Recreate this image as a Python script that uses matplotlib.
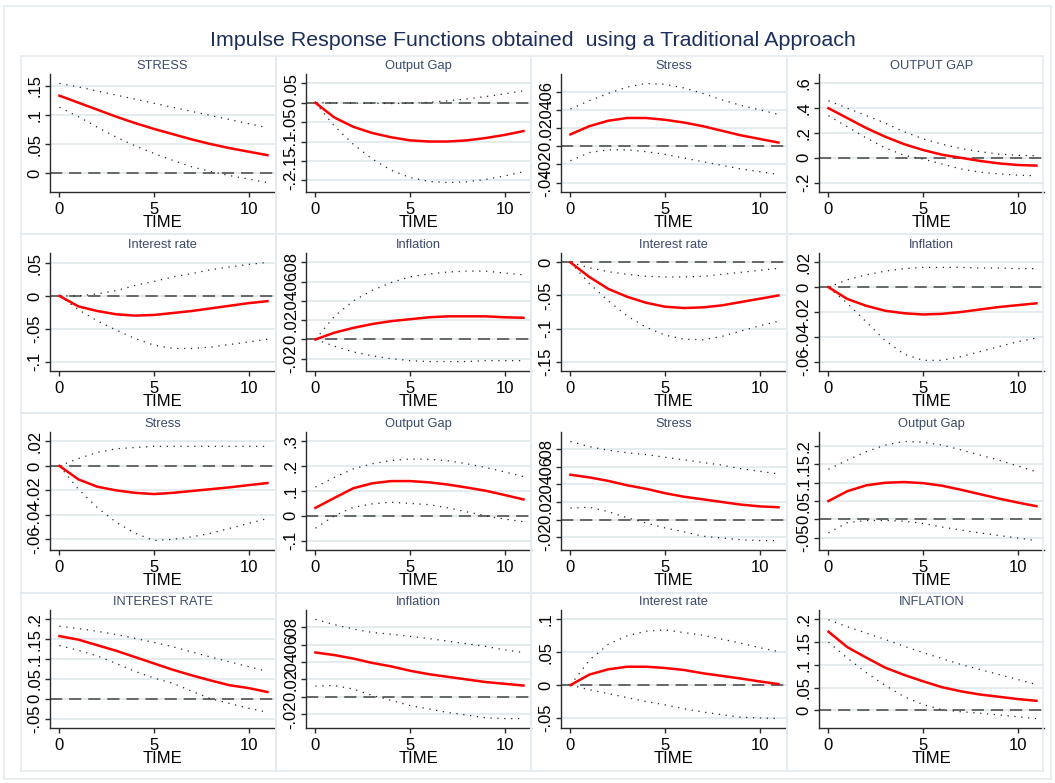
import matplotlib
matplotlib.use("Agg")
import matplotlib.pyplot as plt
from matplotlib.patches import Rectangle

plt.rcParams['font.family'] = ['Liberation Sans Narrow', 'Liberation Sans', 'DejaVu Sans']

# horizon 0..11
steps = list(range(12))

titles = ['STRESS', 'Output Gap', 'Stress', 'OUTPUT GAP',
          'Interest rate', 'Inflation', 'Interest rate', 'Inflation',
          'Stress', 'Output Gap', 'Stress', 'Output Gap',
          'INTEREST RATE', 'Inflation', 'Interest rate', 'INFLATION']

yticks = [[0, .05, .1, .15],
          [-.2, -.15, -.1, -.05, 0, .05],
          [-.04, -.02, 0, .02, .04, .06],
          [-.2, 0, .2, .4, .6],
          [-.1, -.05, 0, .05],
          [-.02, 0, .02, .04, .06, .08],
          [-.15, -.1, -.05, 0],
          [-.06, -.04, -.02, 0, .02],
          [-.06, -.04, -.02, 0, .02],
          [-.1, 0, .1, .2, .3],
          [-.02, 0, .02, .04, .06, .08],
          [-.05, 0, .05, .1, .15, .2],
          [-.05, 0, .05, .1, .15, .2],
          [-.02, 0, .02, .04, .06, .08],
          [-.05, 0, .05, .1],
          [0, .05, .1, .15, .2]]

# impulse responses (red line)
irf = [[.133, .121, .109, .097, .086, .076, .067, .058, .050, .043, .037, .031],
       [0, -.038, -.062, -.078, -.089, -.097, -.100, -.100, -.097, -.091, -.083, -.073],
       [.013, .022, .028, .031, .031, .029, .026, .022, .017, .012, .008, .004],
       [.40, .32, .24, .17, .11, .063, .025, 0, -.025, -.045, -.058, -.063],
       [0, -.016, -.023, -.028, -.030, -.029, -.026, -.023, -.019, -.015, -.011, -.008],
       [0, .007, .012, .016, .019, .021, .023, .024, .024, .024, .023, .0225],
       [0, -.022, -.040, -.052, -.061, -.067, -.069, -.068, -.065, -.060, -.055, -.050],
       [0, -.0095, -.015, -.019, -.021, -.022, -.0215, -.020, -.018, -.016, -.0145, -.013],
       [0, -.011, -.017, -.020, -.022, -.023, -.022, -.0205, -.019, -.0175, -.0157, -.014],
       [.032, .072, .111, .131, .140, .140, .135, .126, .114, .101, .084, .066],
       [.051, .048, .044, .039, .035, .030, .026, .023, .020, .017, .015, .014],
       [.050, .077, .093, .100, .102, .099, .092, .081, .069, .057, .046, .036],
       [.158, .149, .135, .121, .105, .089, .073, .059, .046, .034, .027, .017],
       [.051, .048, .044, .039, .035, .030, .026, .023, .020, .017, .015, .013],
       [0, .016, .024, .028, .028, .026, .023, .018, .014, .010, .0056, .0015],
       [.173, .139, .116, .094, .078, .064, .051, .042, .035, .030, .025, .021]]

# lower confidence band
lower = [[.113, .097, .079, .062, .047, .034, .022, .011, .003, -.004, -.010, -.016],
         [0, -.060, -.107, -.145, -.174, -.193, -.203, -.206, -.204, -.198, -.189, -.178],
         [-.016, -.007, -.004, -.004, -.006, -.009, -.013, -.017, -.021, -.025, -.028, -.031],
         [.34, .25, .16, .08, .02, -.01, -.05, -.09, -.115, -.13, -.14, -.145],
         [0, -.021, -.038, -.052, -.065, -.075, -.080, -.080, -.078, -.074, -.070, -.066],
         [0, -.007, -.013, -.017, -.020, -.022, -.023, -.023, -.023, -.022, -.022, -.022],
         [0, -.032, -.058, -.081, -.098, -.110, -.116, -.117, -.112, -.104, -.096, -.089],
         [0, -.013, -.028, -.043, -.054, -.059, -.059, -.056, -.052, -.048, -.044, -.041],
         [0, -.019, -.034, -.046, -.055, -.061, -.060, -.058, -.055, -.051, -.047, -.043],
         [-.050, 0, .034, .048, .055, .050, .045, .032, .016, 0, -.013, -.024],
         [.013, .014, .009, .002, -.004, -.0096, -.014, -.019, -.021, -.023, -.024, -.024],
         [-.037, -.009, -.003, -.003, -.005, -.011, -.021, -.029, -.037, -.044, -.051, -.058],
         [.134, .122, .108, .089, .069, .052, .039, .019, 0, -.012, -.024, -.034],
         [.0124, .013, .009, .0016, -.004, -.010, -.014, -.018, -.021, -.024, -.025, -.025],
         [0, -.007, -.013, -.019, -.025, -.030, -.036, -.041, -.045, -.049, -.050, -.051],
         [.150, .115, .083, .055, .030, .013, .0015, -.003, -.006, -.010, -.014, -.018]]

# upper confidence band
upper = [[.154, .148, .141, .134, .127, .120, .113, .106, .099, .092, .085, .078],
         [0, 0, -.001, -.001, -.002, -.001, .001, .005, .010, .016, .023, .031],
         [.041, .050, .058, .065, .069, .068, .064, .058, .051, .045, .040, .035],
         [.46, .40, .34, .28, .21, .153, .11, .075, .05, .03, .02, .016],
         [0, 0, .003, .008, .016, .022, .029, .034, .040, .044, .048, .051],
         [0, .024, .040, .051, .059, .065, .068, .070, .071, .071, .069, .067],
         [0, -.008, -.014, -.018, -.021, -.022, -.022, -.021, -.018, -.015, -.012, -.009],
         [0, .006, .010, .013, .015, .016, .016, .016, .0155, .0155, .015, .015],
         [0, .006, .011, .014, .015, .016, .016, .016, .016, .016, .016, .016],
         [.116, .155, .189, .210, .223, .229, .228, .222, .210, .195, .177, .158],
         [.089, .083, .079, .076, .074, .071, .068, .065, .062, .058, .055, .052],
         [.137, .162, .185, .203, .213, .211, .203, .190, .176, .162, .146, .130],
         [.183, .177, .170, .162, .152, .142, .131, .118, .105, .093, .081, .069],
         [.089, .083, .078, .074, .072, .0695, .067, .064, .061, .058, .054, .051],
         [0, .038, .062, .075, .082, .084, .080, .076, .070, .064, .057, .051],
         [.199, .184, .170, .156, .141, .127, .114, .101, .090, .079, .068, .057]]


def stata_label(v):
    # stata style: .05 instead of 0.05
    s = '%g' % v
    if s.startswith('0.'):
        s = s[1:]
    elif s.startswith('-0.'):
        s = '-' + s[2:]
    return s


W, H = 1055, 783
fig = plt.figure(figsize=(W / 100, H / 100), dpi=100)
fig.patch.set_facecolor('white')

frame_col = '#e4ebf0'
fig.add_artist(Rectangle((4 / W, 1 - 779 / H), 1047 / W, 773 / H, transform=fig.transFigure,
                         fill=False, ec=frame_col, lw=1.2))

# cell borders
col_edges = [21, 276, 531, 787, 1043]
row_edges = [56, 234, 413, 593, 771]
for r in range(4):
    for c in range(4):
        x0, x1 = col_edges[c], col_edges[c + 1]
        y0, y1 = row_edges[r], row_edges[r + 1]
        fig.add_artist(Rectangle((x0 / W, 1 - y1 / H), (x1 - x0) / W, (y1 - y0) / H,
                                 transform=fig.transFigure, fill=False, ec=frame_col, lw=1.2))

fig.text(533 / W, 1 - 41 / H, 'Impulse Response Functions obtained  using a Traditional Approach',
         ha='center', va='center', fontsize=15.4, color='#1c2e5a')

spine_x = [50, 306, 561, 819]
top_y = [74, 253, 432, 610]
ax_w, ax_h = 225, 118

for i in range(16):
    r, c = divmod(i, 4)
    ax = fig.add_axes([spine_x[c] / W, 1 - (top_y[r] + ax_h) / H, ax_w / W, ax_h / H])

    ax.yaxis.grid(True, color='#e2eaee', lw=1.3)
    ax.set_axisbelow(True)
    ax.axhline(0, color='#444444', lw=1.1, dashes=(8, 4.5), zorder=2)
    ax.plot(steps, upper[i], color='#222222', lw=0.9, ls=(0, (1, 4.5)), zorder=3)
    ax.plot(steps, lower[i], color='#222222', lw=0.9, ls=(0, (1, 4.5)), zorder=3)
    ax.plot(steps, irf[i], color='#ff0000', lw=1.8, zorder=4)

    lo = min(min(lower[i]), min(irf[i]), min(yticks[i]))
    hi = max(max(upper[i]), max(irf[i]), max(yticks[i]))
    pad = (hi - lo) * 0.095
    ax.set_ylim(lo - pad, hi + pad)
    ax.set_xlim(-0.5, 11.4)

    ax.set_xticks([0, 5, 10])
    ax.set_yticks(yticks[i])
    ax.set_yticklabels([stata_label(v) for v in yticks[i]])
    ax.tick_params(axis='y', labelrotation=90)
    for lab in ax.get_yticklabels():
        lab.set_va('center')
    ax.tick_params(length=3.6, width=1, color='#2b2b2b', labelsize=12)
    ax.tick_params(axis='x', pad=3.5)
    ax.tick_params(axis='y', pad=2)

    for side in ['top', 'right']:
        ax.spines[side].set_visible(False)
    for side in ['left', 'bottom']:
        ax.spines[side].set_color('#2b2b2b')
        ax.spines[side].set_linewidth(1.0)

    ax.set_xlabel('TIME', fontsize=12, labelpad=-1.5)
    ax.set_title(titles[i], fontsize=9.3, color='#3b4a6b', pad=3.5)

fig.savefig('out.png', dpi=100, facecolor='white')
